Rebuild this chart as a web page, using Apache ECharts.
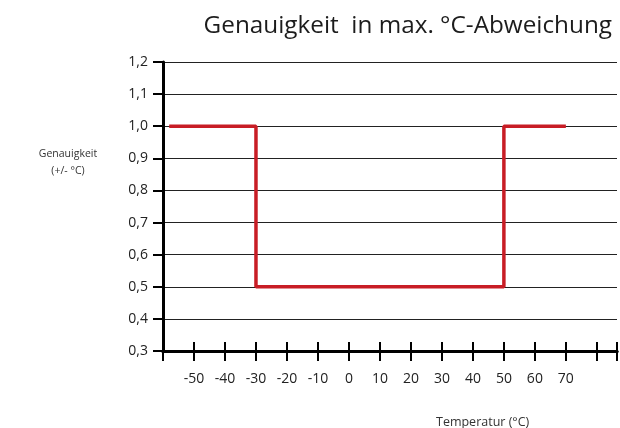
<!DOCTYPE html>
<html>
<head>
<meta charset="utf-8">
<script src="https://cdn.jsdelivr.net/npm/echarts@6/dist/echarts.min.js"></script>
<style>html,body{margin:0;padding:0;background:#fff;}#c{width:620px;height:428px;}</style>
</head>
<body>
<div id="c"></div>
<script>
const titleText = 'Genauigkeit  in max. °C-Abweichung';
const yAxisTitle = 'Genauigkeit\n(+/- °C)';
const xAxisTitle = 'Temperatur (°C)';
const stepX = [-58, -30, -30, 50, 50, 70];
const stepY = [1.0, 1.0, 0.5, 0.5, 1.0, 1.0];
const xLabelMin = -50, xLabelMax = 70;

const chart = echarts.init(document.getElementById('c'), null, {renderer: 'canvas'});
const font = 'Open Sans';
const baseX = {
  type: 'value', min: -60, max: 86.5, interval: 10, position: 'bottom',
  axisLine: {show: true, onZero: false, lineStyle: {color: '#000', width: 3}},
  splitLine: {show: false}
};
chart.setOption({
  animation: false,
  title: [
    {text: titleText, right: 3, top: 9, textStyle: {fontFamily: font, fontSize: 24.3, fontWeight: 'normal', color: '#1c1c1c'}},
    {text: yAxisTitle, left: 63, top: 141, textAlign: 'center', textStyle: {fontFamily: font, fontSize: 10.5, fontWeight: 'normal', color: '#333', lineHeight: 17}},
    {text: xAxisTitle, left: 431, top: 411, textStyle: {fontFamily: font, fontSize: 12.5, fontWeight: 'normal', color: '#333'}}
  ],
  grid: {left: 163, top: 62, right: 0, bottom: 77, containLabel: false},
  xAxis: [
    Object.assign({}, baseX, {
      axisTick: {show: true, inside: false, length: 10, lineStyle: {color: '#000', width: 2}},
      axisLabel: {show: true, margin: 21, fontFamily: font, fontSize: 14, color: '#222',
        formatter: v => (v >= xLabelMin && v <= xLabelMax && Number.isInteger(v)) ? String(v) : ''}
    }),
    Object.assign({}, baseX, {
      axisTick: {show: true, inside: true, length: 9, lineStyle: {color: '#000', width: 2}},
      axisLabel: {show: false}
    })
  ],
  yAxis: {
    type: 'value', min: 0.3, max: 1.2, interval: 0.1,
    axisLine: {show: true, onZero: false, lineStyle: {color: '#000', width: 3}},
    axisTick: {show: true, inside: false, length: 10, lineStyle: {color: '#000', width: 2}},
    axisLabel: {margin: 15, fontFamily: font, fontSize: 14, color: '#222',
      formatter: v => v.toFixed(1).replace('.', ',')},
    splitLine: {show: true, lineStyle: {color: '#222', width: 1.2}}
  },
  series: [{
    type: 'line', xAxisIndex: 0,
    data: stepX.map((x, i) => [x, stepY[i]]),
    symbol: 'none',
    lineStyle: {color: '#c81d25', width: 3.5}
  }]
});
</script>
</body>
</html>
